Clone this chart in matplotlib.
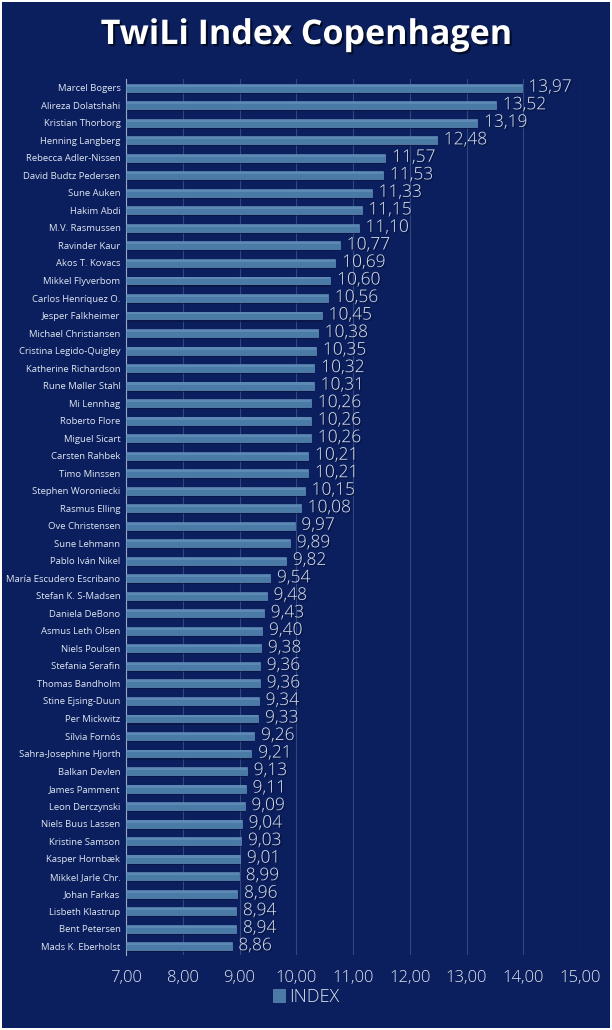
import numpy as np
import matplotlib.pyplot as plt
from matplotlib.patches import Rectangle
import matplotlib.patheffects as pe

names = ['Marcel Bogers', 'Alireza Dolatshahi', 'Kristian Thorborg', 'Henning Langberg',
         'Rebecca Adler-Nissen', 'David Budtz Pedersen', 'Sune Auken', 'Hakim Abdi',
         'M.V. Rasmussen', 'Ravinder Kaur', 'Akos T. Kovacs', 'Mikkel Flyverbom',
         'Carlos Henríquez O.', 'Jesper Falkheimer', 'Michael Christiansen',
         'Cristina Legido-Quigley', 'Katherine Richardson', 'Rune Møller Stahl',
         'Mi Lennhag', 'Roberto Flore', 'Miguel Sicart', 'Carsten Rahbek', 'Timo Minssen',
         'Stephen Woroniecki', 'Rasmus Elling', 'Ove Christensen', 'Sune Lehmann',
         'Pablo Iván Nikel', 'María Escudero Escribano', 'Stefan K. S-Madsen',
         'Daniela DeBono', 'Asmus Leth Olsen', 'Niels Poulsen', 'Stefania Serafin',
         'Thomas Bandholm', 'Stine Ejsing-Duun', 'Per Mickwitz', 'Sílvia Fornós',
         'Sahra-Josephine Hjorth', 'Balkan Devlen', 'James Pamment', 'Leon Derczynski',
         'Niels Buus Lassen', 'Kristine Samson', 'Kasper Hornbæk', 'Mikkel Jarle Chr.',
         'Johan Farkas', 'Lisbeth Klastrup', 'Bent Petersen', 'Mads K. Eberholst']
index = [13.97, 13.52, 13.19, 12.48, 11.57, 11.53, 11.33, 11.15, 11.10, 10.77,
         10.69, 10.60, 10.56, 10.45, 10.38, 10.35, 10.32, 10.31, 10.26, 10.26,
         10.26, 10.21, 10.21, 10.15, 10.08, 9.97, 9.89, 9.82, 9.54, 9.48,
         9.43, 9.40, 9.38, 9.36, 9.36, 9.34, 9.33, 9.26, 9.21, 9.13,
         9.11, 9.09, 9.04, 9.03, 9.01, 8.99, 8.96, 8.94, 8.94, 8.86]
xticks = [7, 8, 9, 10, 11, 12, 13, 14, 15]

plt.rcParams['font.family'] = ['Open Sans', 'DejaVu Sans']

bg = '#0b1f5e'
bar_col = '#4a7aa6'
txt = '#dfe6f0'

fig = plt.figure(figsize=(6.12, 10.30), dpi=100, facecolor='white')
fig.patches.append(Rectangle((2/612, 2/1030), 608/612, 1026/1030,
                             transform=fig.transFigure, facecolor=bg,
                             edgecolor='none', zorder=-10))

ax = fig.add_axes([126/612, 75/1030, 454/612, 876/1030])
ax.set_facecolor('none')

y = np.arange(len(names))
vals = np.array(index)
# schatten unter den balken
ax.barh(y + 0.12, vals - 7, left=7, height=0.45, color='#06123a', alpha=0.6, zorder=2)
ax.barh(y, vals - 7, left=7, height=0.45, color=bar_col,
        edgecolor='#6f9bc4', linewidth=0.4, zorder=3)
# heller streifen oben, wie ein verlauf
ax.barh(y - 0.12, vals - 7, left=7, height=0.12, color='#6a96c0', alpha=0.6,
        linewidth=0, zorder=4)

for yi, v in zip(y, vals):
    ax.text(v + 0.12, yi, f'{v:.2f}'.replace('.', ','), color=txt,
            fontsize=12.5, fontweight='light', va='center', ha='left', zorder=5,
            path_effects=[pe.withSimplePatchShadow(offset=(1, -1),
                                                   shadow_rgbFace='#050f30', alpha=0.8)])

ax.set_xlim(7, 15)
ax.set_ylim(len(names) - 0.5, -0.5)
ax.set_xticks(xticks)
ax.set_xticklabels([f'{t:.2f}'.replace('.', ',') for t in xticks],
                   color=txt, fontsize=12, fontweight='light')
ax.set_yticks(y)
ax.set_yticklabels(names, color=txt, fontsize=6.8)
ax.tick_params(axis='both', length=0)
ax.tick_params(axis='x', pad=11)
ax.tick_params(axis='y', pad=4)
ax.grid(axis='x', color='#8fa6cc', alpha=0.3, linewidth=0.8, zorder=1)
ax.set_axisbelow(True)
for s in ['top', 'right', 'bottom']:
    ax.spines[s].set_visible(False)
ax.spines['left'].set_color('#9aa8c4')
ax.spines['left'].set_linewidth(0.8)

fig.text(0.5, 1 - 35/1030, 'TwiLi Index Copenhagen', color='white',
         fontsize=24.5, fontweight='bold', ha='center', va='center',
         path_effects=[pe.withSimplePatchShadow(offset=(1.5, -1.5),
                                                shadow_rgbFace='#000818', alpha=0.8)])

h = Rectangle((0, 0), 1, 1, facecolor=bar_col, edgecolor='#6f9bc4', linewidth=0.4)
leg = fig.legend([h], ['INDEX'], loc='center', bbox_to_anchor=(0.5, 1 - 997/1030),
                 frameon=False, fontsize=13, handlelength=0.7, handleheight=0.7,
                 handletextpad=0.2)
for t in leg.get_texts():
    t.set_color(txt)
    t.set_fontweight('light')

plt.savefig('out.png', dpi=100, facecolor=fig.get_facecolor())
